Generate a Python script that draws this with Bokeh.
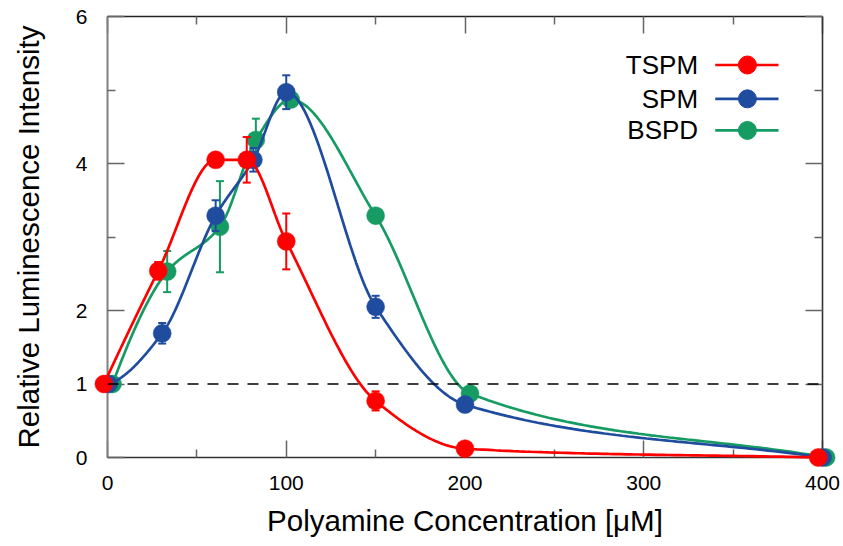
import numpy as np
from bokeh.plotting import figure
from bokeh.models import Range1d, LinearAxis, FixedTicker, Span
from bokeh.core.properties import value
from bokeh.embed import file_html
from bokeh.resources import INLINE

# ---------------- data ----------------
series_names = ["TSPM", "SPM", "BSPD"]
series_colors = ["#ff0000", "#1f4c9e", "#169b62"]

tspm_x = [-2.0, 28.4, 60.5, 77.9, 100.0, 150.0, 200.0, 397.6]
tspm_y = [1.00, 2.54, 4.05, 4.05, 2.94, 0.77, 0.12, 0.00]
tspm_err = [0.0, 0.12, 0.05, 0.31, 0.38, 0.13, 0.03, 0.0]

spm_x = [0.6, 30.6, 60.5, 81.6, 100.0, 150.0, 200.0, 400.0]
spm_y = [1.00, 1.69, 3.29, 4.05, 4.97, 2.05, 0.72, 0.00]
spm_err = [0.0, 0.14, 0.21, 0.16, 0.23, 0.15, 0.03, 0.0]

bspd_x = [2.8, 33.4, 62.9, 83.0, 102.5, 150.0, 202.8, 402.0]
bspd_y = [1.00, 2.53, 3.14, 4.32, 4.87, 3.29, 0.87, 0.00]
bspd_err = [0.0, 0.28, 0.62, 0.29, 0.05, 0.06, 0.03, 0.0]

x_ticks = [0, 100, 200, 300, 400]
x_minor = [50, 150, 250, 350]
y_ticks = [0, 1, 2, 4, 6]
y_minor = [3, 5]
baseline_level = 1.0

x_title = "Polyamine Concentration [μM]"
y_title = "Relative Luminescence Intensity"

FONT = "Liberation Sans"


def smooth(x, y, per_seg=60):
    """Monotone piecewise-cubic (PCHIP-like) curve through the data points."""
    x = np.asarray(x, float)
    y = np.asarray(y, float)
    h = np.diff(x)
    d = np.diff(y) / h
    m = np.zeros_like(y)
    for k in range(1, len(x) - 1):
        if d[k - 1] * d[k] > 0:
            w1 = 2 * h[k] + h[k - 1]
            w2 = h[k] + 2 * h[k - 1]
            m[k] = (w1 + w2) / (w1 / d[k - 1] + w2 / d[k])
    m0 = ((2 * h[0] + h[1]) * d[0] - h[0] * d[1]) / (h[0] + h[1])
    if np.sign(m0) != np.sign(d[0]):
        m0 = 0.0
    m[0] = m0
    m[-1] = d[-1]
    xs, ys = [], []
    for k in range(len(h)):
        t = np.linspace(0, 1, per_seg, endpoint=(k == len(h) - 1))
        h00 = 2 * t**3 - 3 * t**2 + 1
        h10 = t**3 - 2 * t**2 + t
        h01 = -2 * t**3 + 3 * t**2
        h11 = t**3 - t**2
        xs.append(x[k] + t * h[k])
        ys.append(h00 * y[k] + h10 * h[k] * m[k] + h01 * y[k + 1] + h11 * h[k] * m[k + 1])
    return np.concatenate(xs), np.concatenate(ys)


p = figure(
    width=843, height=546,
    x_range=Range1d(0, 400), y_range=Range1d(0, 6),
    output_backend="svg", toolbar_location=None,
    min_border_left=107, min_border_right=21,
    min_border_top=16, min_border_bottom=89,
    x_axis_location=None, y_axis_location=None,
)
p.grid.visible = False
p.outline_line_color = None
p.background_fill_color = "white"
p.border_fill_color = "white"


def style_axis(ax, ticks, minor, line_color, show_labels):
    ax.ticker = FixedTicker(ticks=ticks, minor_ticks=minor)
    ax.axis_line_color = line_color
    ax.axis_line_width = 1.6
    ax.major_tick_in = 17
    ax.major_tick_out = 0
    ax.minor_tick_in = 8
    ax.minor_tick_out = 0
    ax.major_tick_line_color = "#666666"
    ax.major_tick_line_width = 1.5
    ax.minor_tick_line_color = "#666666"
    ax.minor_tick_line_width = 1.5
    ax.major_label_text_font = FONT
    ax.major_label_text_font_size = "21px" if show_labels else "0px"
    ax.major_label_text_color = "black" if show_labels else None
    ax.axis_label_text_font = FONT
    ax.axis_label_text_font_style = "normal"
    ax.axis_label_text_color = "black"
    ax.axis_label_text_font_size = "29.5px"


xb = LinearAxis(axis_label=x_title)
style_axis(xb, x_ticks, x_minor, "#333333", True)
xb.major_label_standoff = 18
xb.axis_label_standoff = 11
p.add_layout(xb, "below")

xt = LinearAxis()
style_axis(xt, x_ticks, x_minor, "#222222", False)
xt.major_label_standoff = 0
p.add_layout(xt, "above")

yl = LinearAxis(axis_label=y_title)
style_axis(yl, y_ticks, y_minor, "#808080", True)
yl.axis_line_width = 2
yl.major_label_standoff = 20
yl.axis_label_standoff = 28
p.add_layout(yl, "left")

yr = LinearAxis()
style_axis(yr, y_ticks, y_minor, "#333333", False)
yr.major_label_standoff = 0
p.add_layout(yr, "right")

p.add_layout(Span(location=baseline_level, dimension="width", line_color="black",
                  line_width=1.6, line_dash="11 9"))

series = [
    (tspm_x, tspm_y, tspm_err),
    (spm_x, spm_y, spm_err),
    (bspd_x, bspd_y, bspd_err),
]

# draw order: BSPD, SPM, TSPM (red on top)
for idx in [2, 1, 0]:
    xs, ys, es = series[idx]
    col = series_colors[idx]
    cx, cy = smooth(xs, ys)
    r = p.line(cx, cy, line_color=col, line_width=2.7)
    r.level = "annotation"
    xa = np.asarray(xs)
    ya = np.asarray(ys)
    ea = np.asarray(es)
    mask = ea > 0
    r = p.segment(x0=xa[mask], y0=ya[mask] - ea[mask], x1=xa[mask], y1=ya[mask] + ea[mask],
                  line_color=col, line_width=2)
    r.level = "annotation"
    caps_x = np.concatenate([xa[mask], xa[mask]])
    caps_y = np.concatenate([ya[mask] - ea[mask], ya[mask] + ea[mask]])
    r = p.scatter(caps_x, caps_y, marker="dash", size=8, line_color=col, line_width=2)
    r.level = "annotation"
    r = p.scatter(xa, ya, marker="circle", size=18, fill_color=col, line_color=col, line_width=0.5)
    r.level = "annotation"

# legend (label to the left of the line/marker sample)
leg_text_x = 330.4
leg_line_x0 = 340.0
leg_line_x1 = 375.4
leg_mark_x = 358.0
leg_rows_y = [5.34, 4.88, 4.45]
for name, col, ly in zip(series_names, series_colors, leg_rows_y):
    p.line([leg_line_x0, leg_line_x1], [ly, ly], line_color=col, line_width=2.7)
    p.scatter([leg_mark_x], [ly], marker="circle", size=18, fill_color=col, line_color=col)
    p.text([leg_text_x], [ly], text=[name], text_font=value(FONT), text_font_size="26px",
           text_align="right", text_baseline="middle", text_color="black")

open("out.html", "w").write(file_html(p, INLINE))
